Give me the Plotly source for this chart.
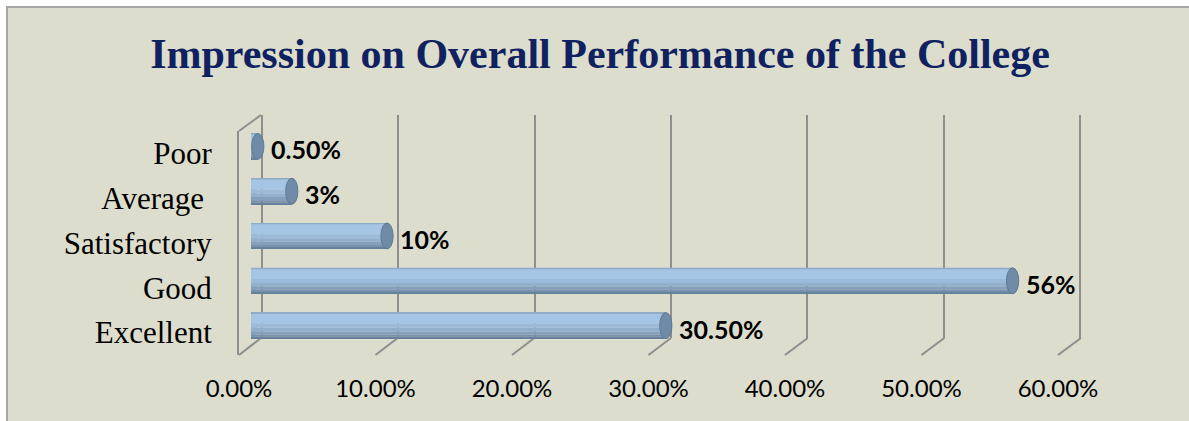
import plotly.graph_objects as go

categories = ["Excellent", "Good", "Satisfactory", "Average\u00a0", "Poor"]
values = [0.305, 0.56, 0.10, 0.03, 0.005]
value_labels = ["30.50%", "56%", "10%", "3%", "0.50%"]
tick_values = [0.0, 0.1, 0.2, 0.3, 0.4, 0.5, 0.6]

W, H = 1189, 421
BG = "#DCDDCC"
GRID = "#8E8E8E"


def px_x(p):
    return p / W


def px_y(p):
    return 1 - p / H


# planes of the fake 3d box, in pixels: (left, right, top, bottom)
front = (239, 1058, 131, 355)
back = (261, 1081, 115, 338)
bars = (251, 1067, 124, 348)
xmax = 0.6
pad = 0.0008

# horizontal strips that fake the shading of a cylinder (top to bottom)
strips = [
    (0.29, 0.26, "#8FAAC6"),
    (0.26, 0.04, "#A5C5E5"),
    (0.04, -0.05, "#9CBBDA"),
    (-0.05, -0.13, "#92B0CE"),
    (-0.13, -0.20, "#859FBC"),
    (-0.20, -0.25, "#7891AD"),
    (-0.25, -0.29, "#68819B"),
]


def plane_x(plane, v):
    return px_x(plane[0] + v / xmax * (plane[1] - plane[0]))


fig = go.Figure()

for top, bottom, color in strips:
    fig.add_trace(go.Bar(
        x=values, y=categories, orientation="h",
        xaxis="x3", yaxis="y3",
        offset=bottom, width=top - bottom,
        marker=dict(color=color, line=dict(width=0)),
        hoverinfo="skip", showlegend=False,
    ))

# rounded starts and end caps
rx = 0.0045
for i, v in enumerate(values):
    fig.add_shape(type="circle", xref="x3", yref="y3",
                  x0=-rx, x1=rx, y0=i - 0.29, y1=i + 0.29,
                  fillcolor="#96B5D4", line=dict(width=0), layer="below")
    fig.add_shape(type="circle", xref="x3", yref="y3",
                  x0=v - rx, x1=v + rx, y0=i - 0.29, y1=i + 0.29,
                  fillcolor="#6F8BA7", line=dict(color="#5F7993", width=1),
                  layer="above")
    fig.add_annotation(xref="x3", yref="y3", x=v + rx, y=i, text=value_labels[i],
                       showarrow=False, xanchor="left", xshift=5, yshift=-3,
                       font=dict(family="Lato", size=25, color="#000000", weight="bold"))

# outer frame
fig.add_shape(type="rect", xref="paper", yref="paper",
              x0=px_x(7), x1=1.05, y0=-0.05, y1=px_y(7),
              fillcolor=BG, line=dict(color="#A5A5A5", width=2), layer="below")

# depth lines of the box
for v in tick_values:
    fig.add_shape(type="line", xref="paper", yref="paper",
                  x0=plane_x(front, v), y0=px_y(front[3]),
                  x1=plane_x(back, v), y1=px_y(back[3]),
                  line=dict(color=GRID, width=2), layer="below")
fig.add_shape(type="line", xref="paper", yref="paper",
              x0=plane_x(front, 0), y0=px_y(front[2]),
              x1=plane_x(back, 0), y1=px_y(back[2]),
              line=dict(color=GRID, width=2), layer="below")

fig.update_layout(
    width=W, height=H,
    margin=dict(l=0, r=0, t=0, b=0),
    paper_bgcolor="white", plot_bgcolor="rgba(0,0,0,0)",
    barmode="overlay",
    showlegend=False,
    title=dict(text="<b>Impression on Overall Performance of the College</b>",
               x=px_x(600), xanchor="center", y=px_y(53), yanchor="middle",
               yref="container",
               font=dict(family="Liberation Serif", size=42, color="#0F2160")),
    xaxis=dict(domain=[px_x(front[0]), px_x(front[1])], range=[0, xmax],
               tickvals=tick_values, tickformat=".2%", showgrid=False,
               zeroline=False, showline=False, ticks="", automargin=False,
               ticklabelstandoff=17,
               tickfont=dict(family="Lato", size=24, color="#000000")),
    yaxis=dict(domain=[px_y(front[3]), px_y(front[2])], type="category",
               categoryorder="array", categoryarray=categories,
               range=[-0.5, 4.5], showgrid=False, zeroline=False,
               showline=True, linecolor=GRID, linewidth=2, ticks="",
               automargin=False, ticklabelstandoff=19,
               tickfont=dict(family="Liberation Serif", size=31, color="#000000")),
    xaxis2=dict(domain=[px_x(back[0]), px_x(back[1])], range=[-pad, xmax + pad],
                tickvals=tick_values, showgrid=True, gridcolor=GRID, gridwidth=2,
                showticklabels=False, zeroline=False, anchor="y2", automargin=False),
    yaxis2=dict(domain=[px_y(back[3]), px_y(back[2])], range=[0, 1],
                showgrid=False, showticklabels=False, zeroline=False,
                anchor="x2", automargin=False),
    xaxis3=dict(domain=[px_x(bars[0]), px_x(bars[1])], range=[0, xmax],
                showgrid=False, showticklabels=False, zeroline=False,
                anchor="y3", automargin=False),
    yaxis3=dict(domain=[px_y(bars[3]), px_y(bars[2])], type="category",
                categoryorder="array", categoryarray=categories,
                range=[-0.5, 4.5], showgrid=False, showticklabels=False,
                zeroline=False, anchor="x3", automargin=False),
)

# invisible traces so the front and back axes get drawn
fig.add_trace(go.Scatter(x=values, y=categories, mode="markers",
                         marker=dict(opacity=0), hoverinfo="skip", showlegend=False))
fig.add_trace(go.Scatter(x=[0], y=[0], xaxis="x2", yaxis="y2", mode="markers",
                         marker=dict(opacity=0), hoverinfo="skip", showlegend=False))

# drop the default page margin so the figure fills the window exactly
fig.write_html("out.html", config={"displayModeBar": False},
               post_script="document.body.style.margin='0';document.body.style.overflow='hidden';")
